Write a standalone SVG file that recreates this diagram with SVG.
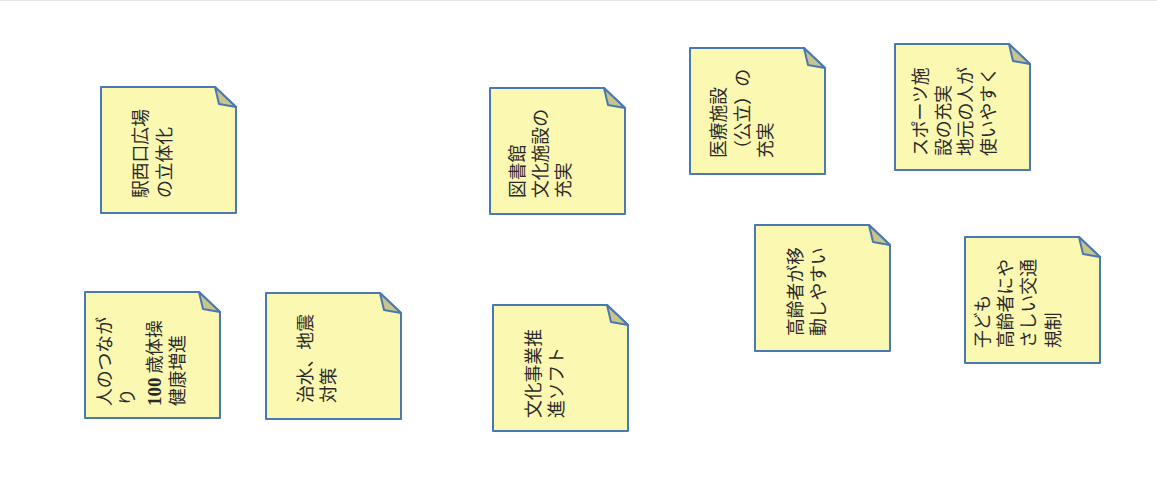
<svg xmlns="http://www.w3.org/2000/svg" xmlns:xlink="http://www.w3.org/1999/xlink" width="1157" height="494" viewBox="0 0 1157 494">
<style>
.body{fill:#FBF8B2;stroke:#4A78B4;stroke-width:2;stroke-linejoin:round}
.fold{fill:#C8C48A;stroke:#4A78B4;stroke-width:2;stroke-linejoin:round}
.t{font-family:"Noto Sans CJK JP","Noto Sans CJK SC",sans-serif;font-size:17.8px;fill:#2a2a2a}
.num{font-family:"Liberation Serif",serif;font-weight:bold;font-size:19px}
</style>
<defs>
<g id="note">
<path class="body" d="M0,0 H114 L135,20 V126 H0 Z"/>
<path class="fold" d="M114,0 L118,17 L135,20 Z"/>
</g>
</defs>
<rect x="0" y="0" width="1157" height="494" fill="#ffffff"/>
<line x1="0" y1="0.5" x2="1157" y2="0.5" stroke="#e6e6e6" stroke-width="1"/>
<g id="connectors"></g>

<g id="n1" transform="translate(101,87)">
<use href="#note"/>
<text class="t" transform="rotate(-90)" x="-111" y="46">駅西口広場</text>
<text class="t" transform="rotate(-90)" x="-111" y="70">の立体化</text>
</g>

<g id="n2" transform="translate(85,292)">
<use href="#note"/>
<text class="t" transform="rotate(-90)" x="-114" y="26">人のつなが</text>
<text class="t" transform="rotate(-90)" x="-114" y="49">り</text>
<text class="t" transform="rotate(-90)" x="-114" y="76"><tspan class="num">100</tspan> 歳体操</text>
<text class="t" transform="rotate(-90)" x="-114" y="99">健康増進</text>
</g>

<g id="n3" transform="translate(266,293)">
<use href="#note"/>
<text class="t" transform="rotate(-90)" x="-110" y="46">治水、地震</text>
<text class="t" transform="rotate(-90)" x="-110" y="69">対策</text>
</g>

<g id="n4" transform="translate(490,88)">
<use href="#note"/>
<text class="t" transform="rotate(-90)" x="-110" y="34">図書館</text>
<text class="t" transform="rotate(-90)" x="-110" y="57">文化施設の</text>
<text class="t" transform="rotate(-90)" x="-110" y="80">充実</text>
</g>

<g id="n5" transform="translate(493,305)">
<use href="#note"/>
<text class="t" transform="rotate(-90)" x="-113" y="47">文化事業推</text>
<text class="t" transform="rotate(-90)" x="-113" y="70">進ソフト</text>
</g>

<g id="n6" transform="translate(690,48)">
<use href="#note"/>
<text class="t" transform="rotate(-90)" x="-110" y="35">医療施設</text>
<text class="t" transform="rotate(-90)" x="-110" y="59">（公立）の</text>
<text class="t" transform="rotate(-90)" x="-110" y="82">充実</text>
</g>

<g id="n7" transform="translate(895,44)">
<use href="#note"/>
<text class="t" transform="rotate(-90)" x="-112" y="32">スポーツ施</text>
<text class="t" transform="rotate(-90)" x="-112" y="55">設の充実</text>
<text class="t" transform="rotate(-90)" x="-112" y="77">地元の人が</text>
<text class="t" transform="rotate(-90)" x="-112" y="100">使いやすく</text>
</g>

<g id="n8" transform="translate(755,225)">
<use href="#note"/>
<text class="t" transform="rotate(-90)" x="-111" y="47">高齢者が移</text>
<text class="t" transform="rotate(-90)" x="-111" y="70">動しやすい</text>
</g>

<g id="n9" transform="translate(965,237)">
<use href="#note"/>
<text class="t" transform="rotate(-90)" x="-111" y="24">子ども</text>
<text class="t" transform="rotate(-90)" x="-111" y="47">高齢者にや</text>
<text class="t" transform="rotate(-90)" x="-111" y="70">さしい交通</text>
<text class="t" transform="rotate(-90)" x="-111" y="95">規制</text>
</g>
</svg>
